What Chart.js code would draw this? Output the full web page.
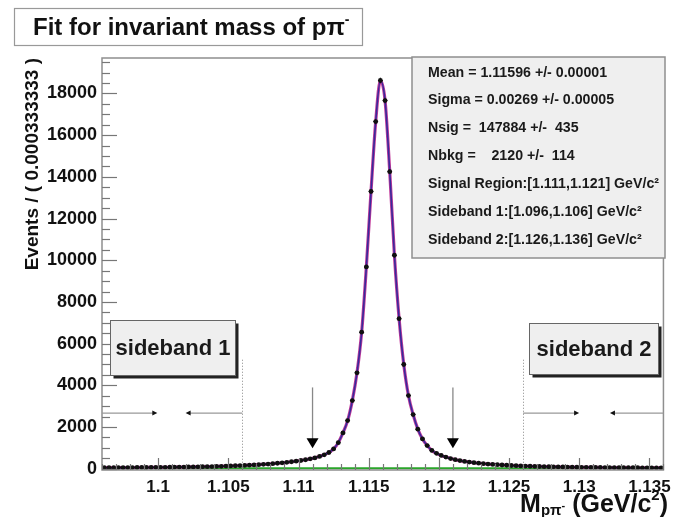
<!DOCTYPE html>
<html><head><meta charset="utf-8">
<script src="https://cdn.jsdelivr.net/npm/chart.js@4.4.0/dist/chart.umd.min.js"></script>
<style>html,body{margin:0;padding:0;background:#fff;}canvas{display:block}</style>
</head><body>
<canvas id="c" width="678" height="517"></canvas>
<script>
const FONT = '"Liberation Sans", Arial, Helvetica, sans-serif';

// ---- data ----
const binLow = 1.096;
const binHigh = 1.136;
const counts = [
  50, 52, 48, 55, 54, 58, 56, 60, 62, 60,
  64, 66, 68, 70, 72, 75, 78, 80, 84, 88,
  92, 96, 100, 106, 112, 118, 126, 134, 144, 154,
  160, 170, 182, 195, 210, 226, 244, 264, 286, 310,
  336, 364, 396, 432, 474, 520, 590, 670, 780, 950,
  1250, 1720, 2310, 3270, 4600, 6550, 9680, 13300, 16650, 18620,
  17660, 14250, 10240, 7200, 5000, 3510, 2600, 1900, 1430, 1110,
  880, 740, 640, 560, 490, 435, 390, 350, 318, 290,
  265, 244, 225, 208, 193, 180, 168, 156, 146, 137,
  128, 120, 113, 107, 101, 96, 91, 87, 83, 79,
  76, 73, 70, 67, 65, 62, 60, 58, 56, 54,
  53, 51, 50, 48, 47, 46, 45, 44, 43, 42
];
const bkgLevel = [18, 18];
const xTickValues = [1.1, 1.105, 1.11, 1.115, 1.12, 1.125, 1.13, 1.135];
const xTickLabels = ['1.1', '1.105', '1.11', '1.115', '1.12', '1.125', '1.13', '1.135'];
const yTickValues = [0, 2000, 4000, 6000, 8000, 10000, 12000, 14000, 16000, 18000];
const yTickLabels = ['0', '2000', '4000', '6000', '8000', '10000', '12000', '14000', '16000', '18000'];
const signalRegion = [1.111, 1.121];
const sideband1 = [1.096, 1.106];
const sideband2 = [1.126, 1.136];
const signalArrowTop = 3900, signalArrowTip = 980;
const sidebandArrowLevel = 2670;
const sidebandLineTop = 5270;
const sideband1Heads = [1.0998, 1.1021];
const sideband2Heads = [1.12985, 1.13233];
const statLines = [
  'Mean = 1.11596 +/- 0.00001',
  'Sigma = 0.00269 +/- 0.00005',
  'Nsig =  147884 +/-  435',
  'Nbkg =    2120 +/-  114',
  'Signal Region:[1.111,1.121] GeV/c\u00B2',
  'Sideband 1:[1.096,1.106] GeV/c\u00B2',
  'Sideband 2:[1.126,1.136] GeV/c\u00B2'
];
const sidebandNames = ['sideband 1', 'sideband 2'];

const binWidth = (binHigh - binLow) / counts.length;
const points = counts.map((c, i) => ({ x: binLow + (i + 0.5) * binWidth, y: c }));

function rich(ctx, segs, x, y, align) {
  let total = 0;
  segs.forEach(s => { ctx.font = 'bold ' + s.size + 'px ' + FONT; s.w = ctx.measureText(s.t).width; total += s.w; });
  let cx = align === 'right' ? x - total : align === 'center' ? x - total / 2 : x;
  ctx.textAlign = 'left';
  segs.forEach(s => { ctx.font = 'bold ' + s.size + 'px ' + FONT; ctx.fillText(s.t, cx, y + (s.dy || 0)); cx += s.w; });
}
function line(ctx, x1, y1, x2, y2) { ctx.beginPath(); ctx.moveTo(x1, y1); ctx.lineTo(x2, y2); ctx.stroke(); }
function tri(ctx, pts) { ctx.beginPath(); ctx.moveTo(pts[0], pts[1]); ctx.lineTo(pts[2], pts[3]); ctx.lineTo(pts[4], pts[5]); ctx.closePath(); ctx.fill(); }

const overlay = {
  id: 'overlay',
  afterDatasetsDraw(chart) {
    const { ctx, chartArea: a, scales: { x, y } } = chart;
    ctx.save();
    // error bars
    ctx.strokeStyle = '#111'; ctx.lineWidth = 1;
    points.forEach(p => {
      const px = x.getPixelForValue(p.x), py = y.getPixelForValue(p.y);
      const e = Math.sqrt(p.y);
      line(ctx, x.getPixelForValue(p.x - binWidth / 2), py, x.getPixelForValue(p.x + binWidth / 2), py);
      line(ctx, px, y.getPixelForValue(p.y - e), px, y.getPixelForValue(p.y + e));
    });
    // frame
    ctx.strokeStyle = '#8f8f8f'; ctx.lineWidth = 1.5;
    ctx.strokeRect(a.left, a.top, a.right - a.left, a.bottom - a.top);
    // y ticks (inward)
    ctx.strokeStyle = '#777'; ctx.lineWidth = 1.2;
    for (let v = 0; v <= 19500; v += 500) {
      const py = Math.round(y.getPixelForValue(v)) + 0.5;
      if (py < a.top) continue;
      line(ctx, a.left, py, a.left + (v % 2000 === 0 ? 15 : 8), py);
    }
    // x ticks (inward)
    for (let i = 96; i <= 136; i++) {
      const px = Math.round(x.getPixelForValue(1 + i / 1000)) + 0.5;
      line(ctx, px, a.bottom, px, a.bottom - (i % 5 === 0 ? 12 : 6));
    }
    // sideband dotted edges
    ctx.strokeStyle = '#888'; ctx.lineWidth = 1; ctx.setLineDash([1, 2]);
    [sideband1[1], sideband2[0]].forEach(v => {
      const px = Math.round(x.getPixelForValue(v)) + 0.5;
      line(ctx, px, y.getPixelForValue(0), px, y.getPixelForValue(sidebandLineTop));
    });
    ctx.setLineDash([]);
    // horizontal sideband arrows
    const hy = y.getPixelForValue(sidebandArrowLevel);
    ctx.strokeStyle = '#999'; ctx.lineWidth = 1.3; ctx.fillStyle = '#111';
    const harrow = (from, to) => {
      const x1 = x.getPixelForValue(from), x2 = x.getPixelForValue(to);
      line(ctx, x1, hy, x2, hy);
      const d = x2 > x1 ? 1 : -1;
      tri(ctx, [x2 + d * 2, hy, x2 - d * 3, hy - 2.5, x2 - d * 3, hy + 2.5]);
    };
    harrow(sideband1[0], sideband1Heads[0]);
    harrow(sideband1[1], sideband1Heads[1]);
    harrow(sideband2[0], sideband2Heads[0]);
    harrow(sideband2[1], sideband2Heads[1]);
    // vertical signal arrows
    signalRegion.forEach(v => {
      const px = x.getPixelForValue(v);
      const top = y.getPixelForValue(signalArrowTop), tip = y.getPixelForValue(signalArrowTip);
      ctx.strokeStyle = '#888'; ctx.lineWidth = 1.3;
      line(ctx, px, top, px, tip - 8);
      ctx.fillStyle = '#000';
      tri(ctx, [px - 6, tip - 10, px + 6, tip - 10, px, tip]);
    });
    // stats box
    ctx.fillStyle = '#efefef'; ctx.fillRect(412, 57, 253, 201);
    ctx.strokeStyle = '#8f8f8f'; ctx.lineWidth = 1.5; ctx.strokeRect(412, 57, 253, 201);
    ctx.fillStyle = '#1a1a1a'; ctx.textBaseline = 'middle';
    ctx.font = 'bold 14.2px ' + FONT; ctx.textAlign = 'left';
    const ys = [73, 100, 128, 156, 184, 212, 240];
    statLines.forEach((t, i) => ctx.fillText(t, 428, ys[i]));
    // sideband labels
    const boxes = [[110.5, 320.5, 125, 55], [529.5, 323.5, 129, 51]];
    boxes.forEach((b, i) => {
      ctx.fillStyle = '#222'; ctx.fillRect(b[0] + 3, b[1] + 3, b[2], b[3]);
      ctx.fillStyle = '#efefef'; ctx.fillRect(b[0], b[1], b[2], b[3]);
      ctx.strokeStyle = '#666'; ctx.lineWidth = 1; ctx.strokeRect(b[0], b[1], b[2], b[3]);
      ctx.fillStyle = '#1a1a1a'; ctx.font = 'bold 22px ' + FONT; ctx.textAlign = 'center';
      ctx.fillText(sidebandNames[i], b[0] + b[2] / 2, b[1] + b[3] / 2 + 1);
    });
    // title box
    ctx.fillStyle = '#fff'; ctx.fillRect(14.5, 8.5, 348, 37);
    ctx.strokeStyle = '#999'; ctx.lineWidth = 1.2; ctx.strokeRect(14.5, 8.5, 348, 37);
    ctx.fillStyle = '#111';
    rich(ctx, [{ t: 'Fit for invariant mass of p\u03C0', size: 24 }, { t: '-', size: 14, dy: -8 }], 33, 28, 'left');
    // x axis title
    rich(ctx, [{ t: 'M', size: 25 }, { t: 'p\u03C0', size: 15, dy: 6 }, { t: '-', size: 11, dy: 1 }, { t: ' (GeV/c', size: 25 }, { t: '2', size: 15, dy: -9 }, { t: ')', size: 25 }], 668, 505, 'right');
    // y axis title
    ctx.save();
    ctx.translate(33, 58); ctx.rotate(-Math.PI / 2);
    rich(ctx, [{ t: 'Events / ( 0.000333333 )', size: 19 }], 0, 0, 'right');
    ctx.restore();
    ctx.restore();
  }
};

new Chart(document.getElementById('c'), {
  type: 'line',
  data: {
    datasets: [
      { label: 'data', data: points, showLine: false, pointRadius: 2.4, pointBackgroundColor: '#111', pointBorderWidth: 0, order: 0 },
      { label: 'total', data: points, borderColor: '#3a2a9c', borderWidth: 1.6, pointRadius: 0, cubicInterpolationMode: 'monotone', order: 1 },
      { label: 'signal', data: points, borderColor: '#c03a9a', borderWidth: 3.2, pointRadius: 0, cubicInterpolationMode: 'monotone', order: 2 },
      { label: 'bkg', data: [{ x: binLow, y: bkgLevel[0] }, { x: binHigh, y: bkgLevel[1] }], borderColor: '#2aa52a', borderWidth: 2, pointRadius: 0, order: 3 }
    ]
  },
  options: {
    responsive: false, animation: false, devicePixelRatio: 1,
    layout: { padding: { top: 58, right: 13, left: 0, bottom: 0 } },
    plugins: { legend: { display: false }, tooltip: { enabled: false }, title: { display: false } },
    scales: {
      x: {
        type: 'linear', min: binLow, max: binHigh,
        afterFit(s) { s.height = 47; },
        afterBuildTicks(s) { s.ticks = xTickValues.map(v => ({ value: v })); },
        ticks: { autoSkip: false, maxRotation: 0, padding: 7, color: '#111', font: { family: FONT, size: 17, weight: 'bold' }, callback: (v, i) => xTickLabels[i] },
        grid: { display: false, drawTicks: false }, border: { display: false }
      },
      y: {
        type: 'linear', min: -60, max: 19700,
        afterFit(s) { s.width = 102; },
        afterBuildTicks(s) { s.ticks = yTickValues.map(v => ({ value: v })); },
        ticks: { autoSkip: false, padding: 5, color: '#111', font: { family: FONT, size: 18, weight: 'bold' }, callback: (v, i) => yTickLabels[i] },
        grid: { display: false, drawTicks: false }, border: { display: false }
      }
    }
  },
  plugins: [overlay]
});
</script>
</body></html>
